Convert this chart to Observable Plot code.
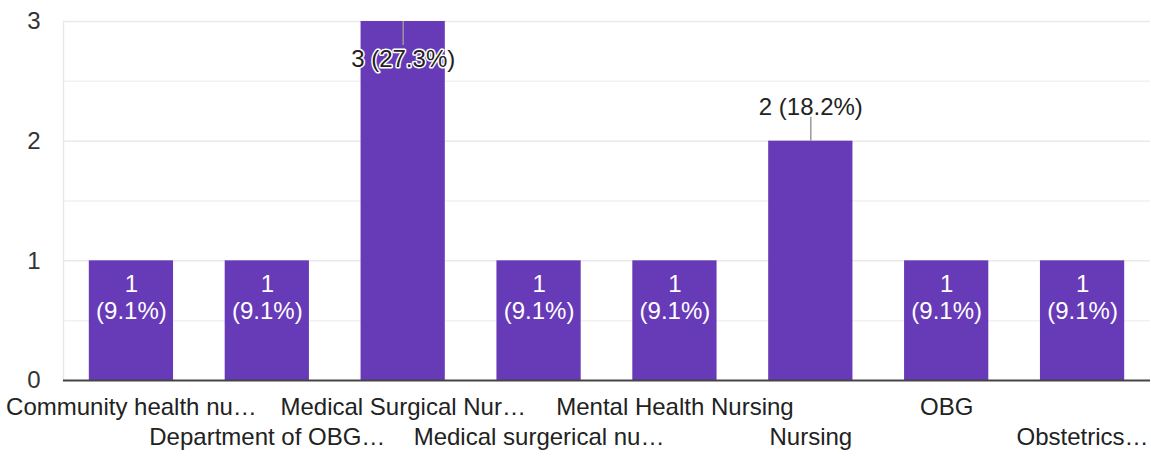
<!DOCTYPE html>
<html><head><meta charset="utf-8">
<script src="https://cdn.jsdelivr.net/npm/d3@7"></script>
<script src="https://cdn.jsdelivr.net/npm/@observablehq/plot@0.6"></script>
<style>body{margin:0;background:#fff;}</style>
</head><body><div id="chart"></div>
<script>
const categories = [
  "Community health nu…",
  "Department of OBG…",
  "Medical Surgical Nur…",
  "Medical surgerical nu…",
  "Mental Health Nursing",
  "Nursing",
  "OBG",
  "Obstetrics…"
];
const counts = [1, 1, 3, 1, 1, 2, 1, 1];
const percents = ["9.1%", "9.1%", "27.3%", "9.1%", "9.1%", "18.2%", "9.1%", "9.1%"];
const yTicks = [0, 1, 2, 3];
const yMinorGrid = [0.5, 1.5, 2.5];

const data = categories.map((c, i) => ({category: c, count: counts[i], pct: percents[i]}));
const maxCount = d3.max(counts);
const inside = data.filter(d => d.count === 1);
const topInside = data.filter(d => d.count === maxCount);
const above = data.filter(d => d.count !== 1 && d.count !== maxCount);
const evenCats = categories.filter((c, i) => i % 2 === 0);
const oddCats = categories.filter((c, i) => i % 2 === 1);

const FONT = "'Liberation Sans', Arial, Helvetica, sans-serif";
const FS = 24;
const chart = Plot.plot({
  width: 1151, height: 456,
  marginTop: 21, marginBottom: 76, marginLeft: 63, marginRight: 1,
  style: {fontFamily: FONT, fontSize: FS + "px", color: "#222", background: "#fff"},
  x: {domain: categories, paddingInner: 0.38, paddingOuter: 0.19, round: false, label: null},
  y: {domain: [0, 3], label: null},
  marks: [
    Plot.ruleY(yMinorGrid, {stroke: "#f1f1f1", strokeWidth: 1.5}),
    Plot.ruleY([1, 2, 3], {stroke: "#e9e9e9", strokeWidth: 1.5}),
    Plot.frame({anchor: "left", stroke: "#e9e9e9", strokeWidth: 1.5}),
    Plot.axisY({ticks: yTicks, tickFormat: d => String(d), tickSize: 0, tickPadding: 23, fontSize: FS, dy: 0, fill: "#333"}),
    Plot.axisX({ticks: evenCats, tickSize: 0, tickPadding: 17, fontSize: FS, fill: "#222"}),
    Plot.axisX({ticks: oddCats, tickSize: 0, tickPadding: 17, dy: 30, fontSize: FS, fill: "#222"}),
    Plot.barY(data, {x: "category", y: "count", fill: "#673ab7"}),
    Plot.ruleY([0], {stroke: "#444", strokeWidth: 2}),
    Plot.text(inside, {x: "category", y: "count", text: d => `${d.count}\n(${d.pct})`,
      lineAnchor: "top", dy: 12, lineHeight: 1.13, fill: "white", fontSize: FS}),
    Plot.ruleX(topInside, {x: "category", y1: "count", y2: d => d.count - 0.2, stroke: "#999", strokeWidth: 1.5}),
    Plot.text(topInside, {x: "category", y: "count", text: d => `${d.count} (${d.pct})`,
      lineAnchor: "middle", dy: 38, fill: "#222", stroke: "white", strokeWidth: 3, fontSize: FS}),
    Plot.ruleX(above, {x: "category", y1: "count", y2: d => d.count + 0.2, stroke: "#999", strokeWidth: 1.5}),
    Plot.text(above, {x: "category", y: "count", text: d => `${d.count} (${d.pct})`,
      lineAnchor: "middle", dy: -34, fill: "#222", fontSize: FS})
  ]
});
document.getElementById("chart").append(chart);
</script>
</body></html>
